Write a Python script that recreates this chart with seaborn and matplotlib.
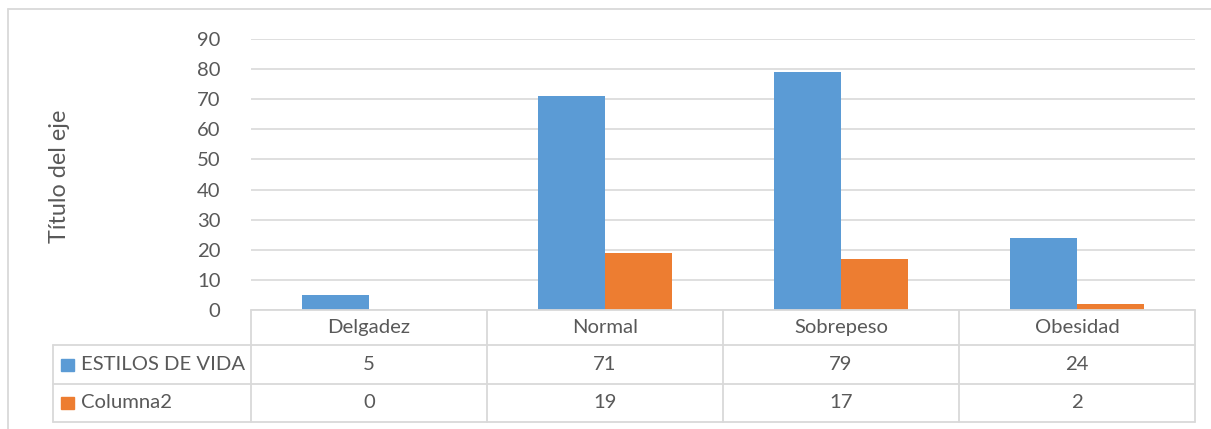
import matplotlib
matplotlib.use("Agg")
import matplotlib.pyplot as plt
from matplotlib.lines import Line2D
from matplotlib.patches import Rectangle
import seaborn as sns
import pandas as pd

categorias = ["Delgadez", "Normal", "Sobrepeso", "Obesidad"]
estilos_de_vida = [5, 71, 79, 24]
columna2 = [0, 19, 17, 2]
series = ["ESTILOS DE VIDA", "Columna2"]
colores = ["#5B9BD5", "#ED7D31"]
y_ticks = [0, 10, 20, 30, 40, 50, 60, 70, 80, 90]

df = pd.DataFrame({
    "categoria": categorias * 2,
    "serie": [series[0]] * len(categorias) + [series[1]] * len(categorias),
    "valor": estilos_de_vida + columna2,
})

sns.set_theme(style="white")
plt.rcParams["font.family"] = ["Lato", "DejaVu Sans"]

W, H = 1211, 429
fig = plt.figure(figsize=(W / 100, H / 100), dpi=100)
fig.patch.set_facecolor("white")

TXT = "#595959"
GRID = "#D9D9D9"
FS = 14.6


def fx(x):
    return x / W


def fy(y):
    return 1 - y / H


# plot area in pixel coordinates
L, R, T, B = 251, 1195, 39, 310
ax = fig.add_axes([fx(L), fy(B), fx(R) - fx(L), fy(T) - fy(B)])

sns.barplot(data=df, x="categoria", y="valor", hue="serie", order=categorias,
            hue_order=series, palette=colores, width=0.567, saturation=1,
            linewidth=0, ax=ax, legend=False)

ax.set_xlim(-0.5, len(categorias) - 0.5)
ax.set_ylim(0, 90)
ax.set_yticks(y_ticks)
ax.set_yticklabels([str(t) for t in y_ticks], color=TXT, fontsize=FS)
ax.tick_params(axis="y", length=0, pad=22)
ax.set_xticks([])
ax.set_xlabel("")
ax.set_ylabel("")
for s in ax.spines.values():
    s.set_visible(False)
ax.grid(axis="y", color=GRID, linewidth=1.2)
ax.set_axisbelow(True)
ax.patch.set_alpha(0)


def hline(y, x0, x1):
    fig.add_artist(Line2D([fx(x0), fx(x1)], [fy(y), fy(y)], color=GRID, lw=1.3,
                          transform=fig.transFigure))


def vline(x, y0, y1):
    fig.add_artist(Line2D([fx(x), fx(x)], [fy(y0), fy(y1)], color=GRID, lw=1.3,
                          transform=fig.transFigure))


# outer chart border
hline(9, 8, W)
vline(8, 9, H)

# data table grid
rows = [310, 345, 384, 422]
legend_left = 53
hline(rows[0], L, R)
for y in rows[1:]:
    hline(y, legend_left, R)
vline(legend_left, rows[1], rows[3])
col_w = (R - L) / len(categorias)
for i in range(len(categorias) + 1):
    vline(L + i * col_w, rows[0], rows[3])

# table contents
valores = [estilos_de_vida, columna2]
for i, cat in enumerate(categorias):
    cx = L + (i + 0.5) * col_w
    fig.text(fx(cx), fy((rows[0] + rows[1]) / 2), cat, ha="center", va="center",
             color=TXT, fontsize=FS)
    for r, vals in enumerate(valores):
        fig.text(fx(cx), fy((rows[r + 1] + rows[r + 2]) / 2), str(vals[i]),
                 ha="center", va="center", color=TXT, fontsize=FS)

# legend keys inside the table
for r, (name, col) in enumerate(zip(series, colores)):
    yc = (rows[r + 1] + rows[r + 2]) / 2
    fig.add_artist(Rectangle((fx(61), fy(yc + 6)), fx(13), 12 / H, color=col,
                             transform=fig.transFigure))
    fig.text(fx(81), fy(yc), name, ha="left", va="center", color=TXT, fontsize=FS)

# axis title
fig.text(fx(60), fy(176), "Título del eje", rotation=90, ha="center", va="center",
         color=TXT, fontsize=16.8)

fig.savefig("out.png", dpi=100, facecolor="white")
